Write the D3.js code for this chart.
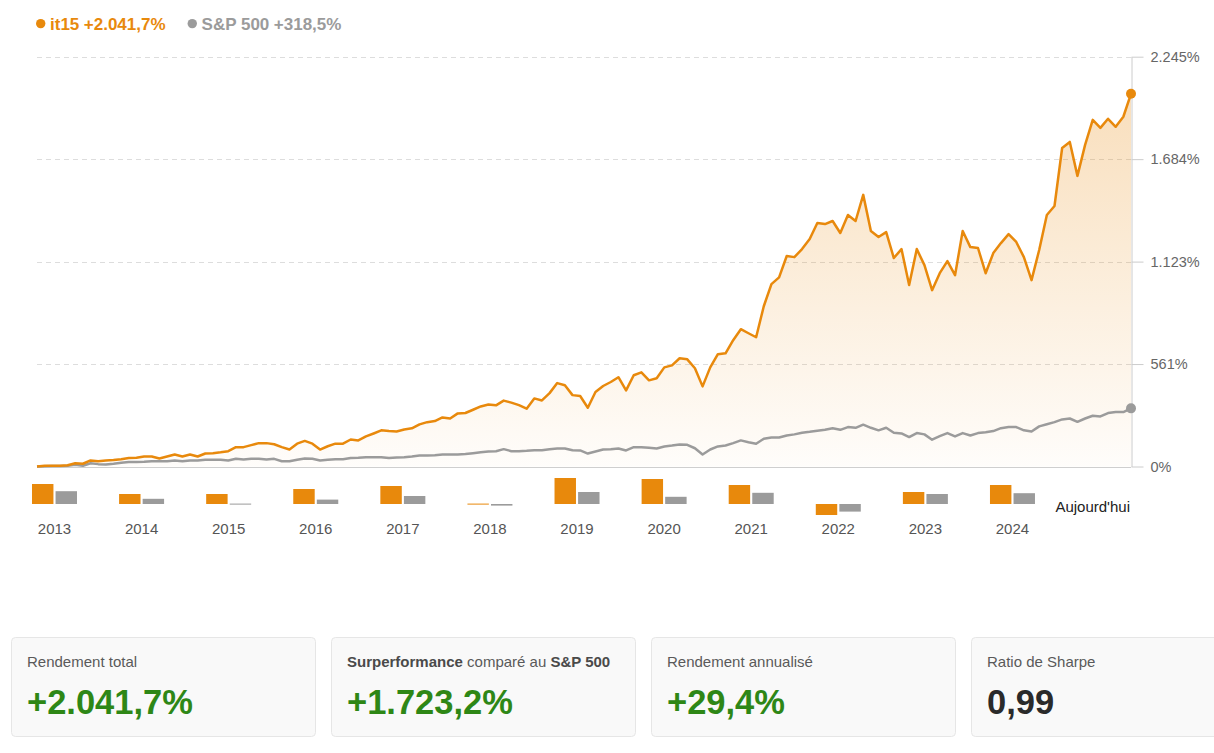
<!DOCTYPE html>
<html><head><meta charset="utf-8">
<script src="https://cdn.jsdelivr.net/npm/d3@7"></script>
<style>
html,body{margin:0;padding:0;background:#fff;overflow:hidden;}
svg{display:block;font-family:"Liberation Sans",Arial,Helvetica,sans-serif;}
</style></head><body>
<svg id="chart" width="1214" height="753"></svg>
<script>
// Cumulative performance (%), monthly points
const itValues = [
  0, 4, 4, 4, 7, 18, 15, 33, 29, 33,
  35, 40, 46, 48, 55, 55, 44, 55, 66, 55,
  66, 55, 71, 73, 78, 84, 106, 106, 117, 128,
  128, 122, 106, 93, 125, 140, 125, 93, 111, 125,
  125, 148, 143, 165, 181, 198, 194, 192, 203, 209,
  231, 243, 249, 269, 263, 291, 293, 311, 329, 340,
  335, 361, 350, 336, 317, 373, 362, 402, 457, 445,
  391, 386, 322, 408, 441, 463, 489, 417, 500, 516,
  472, 483, 543, 554, 593, 587, 538, 439, 543, 615,
  620, 692, 752, 730, 708, 878, 999, 1036, 1153, 1147,
  1191, 1246, 1334, 1328, 1345, 1279, 1378, 1345, 1488, 1290,
  1257, 1284, 1142, 1191, 994, 1191, 1103, 966, 1059, 1125,
  1048, 1290, 1202, 1197, 1059, 1169, 1224, 1273, 1230, 1147,
  1021, 1186, 1378, 1427, 1745, 1778, 1592, 1762, 1899, 1855,
  1905, 1861, 1916, 2041.7
];
const spValues = [
  0, 2, 3, 3, 4, 9, 4, 18, 13, 11,
  15, 20, 24, 24, 26, 29, 29, 29, 33, 29,
  33, 33, 37, 37, 37, 33, 42, 38, 42, 42,
  38, 42, 29, 29, 37, 44, 42, 33, 37, 40,
  40, 46, 48, 51, 51, 51, 46, 49, 51, 55,
  60, 60, 62, 66, 66, 66, 68, 73, 78, 82,
  84, 95, 84, 84, 86, 89, 89, 95, 99, 99,
  89, 88, 71, 82, 93, 95, 99, 88, 106, 106,
  103, 99, 110, 115, 121, 119, 100, 66, 93, 110,
  115, 128, 143, 133, 125, 152, 159, 159, 170, 176,
  185, 190, 196, 201, 210, 201, 216, 212, 229, 212,
  198, 212, 185, 181, 161, 183, 176, 147, 166, 183,
  165, 183, 170, 183, 188, 194, 210, 216, 216, 198,
  192, 220, 231, 243, 258, 263, 245, 263, 278, 274,
  293, 298, 298, 318.5
];
const yTickValues = [0, 561.25, 1122.5, 1683.75, 2245];
const yTickLabels = ["0%", "561%", "1.123%", "1.684%", "2.245%"];

// Annual returns (%)
const years = ["2013","2014","2015","2016","2017","2018","2019","2020","2021","2022","2023","2024"];
const itAnnual = [50, 25, 25, 37.5, 45, 1, 65, 62.5, 47.5, -27.5, 30, 47.5];
const spAnnual = [32, 13, 1, 11, 20, -4, 30, 18, 28, -19, 25, 27];
const todayLabel = "Aujourd'hui";

const seriesNames = ["it15", "S&P 500"];
const seriesTotals = ["+2.041,7%", "+318,5%"];

const cardTitles = [
  [["Rendement total", false]],
  [["Surperformance", true], [" comparé au ", false], ["S&P 500", true]],
  [["Rendement annualisé", false]],
  [["Ratio de Sharpe", false]]
];
const cardValues = ["+2.041,7%", "+1.723,2%", "+29,4%", "0,99"];
const cardPositive = [true, true, true, false];

const ORANGE = "#E8890C", GRAY = "#9B9B9B";
const seriesColors = [ORANGE, GRAY];

const svg = d3.select("#chart");

// gradient
const defs = svg.append("defs");
const grad = defs.append("linearGradient").attr("id", "areaGrad")
  .attr("gradientUnits", "userSpaceOnUse").attr("x1", 0).attr("x2", 0).attr("y1", 57).attr("y2", 466);
grad.append("stop").attr("offset", "0%").attr("stop-color", ORANGE).attr("stop-opacity", 0.3);
grad.append("stop").attr("offset", "100%").attr("stop-color", ORANGE).attr("stop-opacity", 0.02);

// scales
const x = d3.scaleLinear().domain([0, itValues.length - 1]).range([37, 1131]);
const y = d3.scaleLinear().domain([0, 2245]).range([466.5, 56.7]);

// grid
svg.append("g").selectAll("line").data(yTickValues).join("line")
  .attr("x1", 37).attr("x2", 1131)
  .attr("y1", d => Math.round(y(d)) + 0.5).attr("y2", d => Math.round(y(d)) + 0.5)
  .attr("stroke", d => d === 0 ? "#cfcfcf" : "#dddddd")
  .attr("stroke-dasharray", d => d === 0 ? null : "5,4");

// area
svg.append("path").datum(itValues)
  .attr("fill", "url(#areaGrad)")
  .attr("d", d3.area().x((d, i) => x(i)).y0(y(0)).y1(d => y(d)));

// axis
const axis = svg.append("g").attr("transform", "translate(1131.5,0)")
  .call(d3.axisRight(y).tickValues(yTickValues).tickFormat((d, i) => yTickLabels[i])
    .tickSize(12).tickPadding(7).tickSizeOuter(0));
axis.select(".domain").attr("stroke", "#cccccc");
axis.selectAll(".tick line").attr("stroke", "#cccccc");
axis.selectAll(".tick text").attr("fill", "#666").attr("font-size", 14.5)
  .attr("font-family", "'Liberation Sans',Arial,sans-serif");

// lines
const line = d3.line().x((d, i) => x(i)).y(d => y(d));
svg.append("path").datum(spValues).attr("fill", "none").attr("stroke", GRAY)
  .attr("stroke-width", 2.5).attr("stroke-linejoin", "round").attr("d", line);
svg.append("path").datum(itValues).attr("fill", "none").attr("stroke", ORANGE)
  .attr("stroke-width", 2.5).attr("stroke-linejoin", "round").attr("d", line);
svg.append("circle").attr("cx", x(spValues.length - 1)).attr("cy", y(spValues[spValues.length - 1]))
  .attr("r", 5).attr("fill", GRAY);
svg.append("circle").attr("cx", x(itValues.length - 1)).attr("cy", y(itValues[itValues.length - 1]))
  .attr("r", 5).attr("fill", ORANGE);

// annual bars
const band = d3.scaleBand().domain([...years, todayLabel]).range([10.95, 1143.1]);
const inner = d3.scaleBand().domain(["it", "sp"]).range([-22.5, 22.5]).paddingInner(0.09);
const yb = d3.scaleLinear().domain([0, 65]).range([504, 478]);
const barData = [];
years.forEach((yr, i) => {
  barData.push({ yr, k: "it", v: itAnnual[i], c: ORANGE });
  barData.push({ yr, k: "sp", v: spAnnual[i], c: GRAY });
});
svg.append("g").selectAll("rect").data(barData).join("rect")
  .attr("x", d => band(d.yr) + band.bandwidth() / 2 + inner(d.k))
  .attr("width", inner.bandwidth())
  .attr("y", d => Math.min(yb(d.v), yb(0)))
  .attr("height", d => Math.max(1, Math.abs(yb(d.v) - yb(0))))
  .attr("fill", d => d.c);
svg.append("g").selectAll("text").data(years).join("text")
  .attr("x", d => band(d) + band.bandwidth() / 2).attr("y", 534)
  .attr("text-anchor", "middle").attr("font-size", 15).attr("fill", "#555").text(d => d);
svg.append("text").attr("x", 1130).attr("y", 512).attr("text-anchor", "end")
  .attr("font-size", 15).attr("fill", "#222").text(todayLabel);

// legend
let lx = 36;
seriesNames.forEach((n, i) => {
  svg.append("circle").attr("cx", lx + 4.7).attr("cy", 23.6).attr("r", 4.7).attr("fill", seriesColors[i]);
  const t = svg.append("text").attr("x", lx + 14).attr("y", 29.5).attr("font-size", 17)
    .attr("font-weight", "bold").attr("fill", seriesColors[i]);
  t.append("tspan").text(n);
  t.append("tspan").attr("dx", 4.5).text(seriesTotals[i]);
  lx = lx + 14 + t.node().getComputedTextLength() + 4.5 + 22;
});

// cards
cardTitles.forEach((parts, i) => {
  const cx = 11 + i * 320;
  const g = svg.append("g").attr("transform", `translate(${cx},637)`);
  g.append("rect").attr("x", 0.5).attr("y", 0.5).attr("width", 304).attr("height", 99)
    .attr("rx", 4).attr("fill", "#f9f9f9").attr("stroke", "#e6e6e6");
  const t = g.append("text").attr("x", 16).attr("y", 30).attr("font-size", 15).attr("fill", "#5a5a5a");
  parts.forEach(p => {
    t.append("tspan").attr("font-weight", p[1] ? "bold" : "normal")
      .attr("fill", p[1] ? "#4a4a4a" : "#5a5a5a").attr("xml:space", "preserve").text(p[0]);
  });
  g.append("text").attr("x", 16).attr("y", 77).attr("font-size", 34.5).attr("font-weight", "bold")
    .attr("fill", cardPositive[i] ? "#2e8716" : "#2a2a2a").text(cardValues[i]);
});
</script>
</body></html>
